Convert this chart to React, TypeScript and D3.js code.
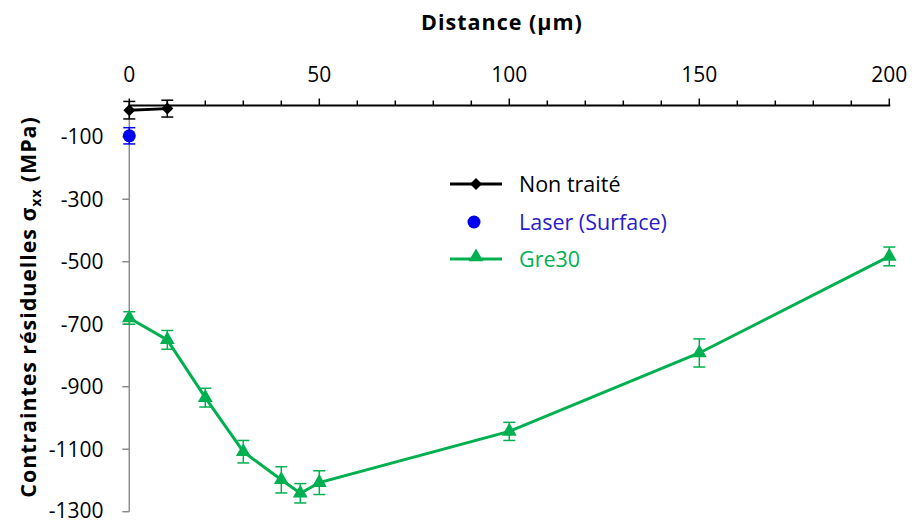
import React from "react";
import * as d3 from "d3";

const W = 912;
const H = 520;

const xTicks = [0, 50, 100, 150, 200];
const yTicks = [-100, -300, -500, -700, -900, -1100, -1300];

const nonTraiteX = [0, 10];
const nonTraiteY = [-15, -10];
const nonTraiteErr = [28, 27];

const laserX = [0];
const laserY = [-97];
const laserErr = [26];

const greX = [0, 10, 20, 30, 40, 45, 50, 100, 150, 200];
const greY = [-680, -750, -935, -1108, -1198, -1241, -1207, -1043, -792, -483];
const greErr = [20, 30, 30, 36, 42, 31, 38, 29, 45, 30];

const GREEN = "#00B050";
const BLUE = "#0000F0";
const FONT = "'Open Sans', 'DejaVu Sans', sans-serif";

export default function App() {
  const x = d3.scaleLinear().domain([0, 200]).range([129.3, 889.3]);
  const y = d3.scaleLinear().domain([-1300, 0]).range([511.7, 105.5]);
  const line = d3.line<[number, number]>().x((d) => x(d[0])).y((d) => y(d[1]));
  const tri = d3.symbol().type(d3.symbolTriangle).size(95)()!;
  const sq = d3.symbol().type(d3.symbolSquare).size(72)()!;
  const minor = d3.range(0, 201, 10);

  const greData: [number, number][] = greX.map((v, i) => [v, greY[i]]);
  const ntData: [number, number][] = nonTraiteX.map((v, i) => [v, nonTraiteY[i]]);

  const errBar = (cx: number, cy: number, e: number, color: string, key: string) => (
    <g key={key} stroke={color} strokeWidth={1.5}>
      <line x1={x(cx)} x2={x(cx)} y1={y(cy - e)} y2={y(cy + e)} />
      <line x1={x(cx) - 6} x2={x(cx) + 6} y1={y(cy - e)} y2={y(cy - e)} />
      <line x1={x(cx) - 6} x2={x(cx) + 6} y1={y(cy + e)} y2={y(cy + e)} />
    </g>
  );

  return (
    <svg
      width={W}
      height={H}
      style={{ position: "absolute", left: 0, top: 0, background: "#fff" }}
      fontFamily={FONT}
    >
      {/* Y axis */}
      <line x1={x(0)} x2={x(0)} y1={y(0)} y2={y(-1300)} stroke="#8c8c8c" strokeWidth={1.5} />
      {yTicks.map((t) => (
        <g key={"yt" + t}>
          <line x1={x(0) - 7} x2={x(0)} y1={y(t)} y2={y(t)} stroke="#8c8c8c" strokeWidth={1.5} />
          <text
            x={103.5}
            y={Math.min(y(t) + 7.5, 517.5)}
            textAnchor="end"
            fontSize={21}
            fill="#000"
          >
            {t}
          </text>
        </g>
      ))}

      {/* X axis (top) */}
      <line x1={x(0)} x2={x(200) + 1} y1={y(0)} y2={y(0)} stroke="#000" strokeWidth={2} />
      {minor.map((t) => (
        <line
          key={"mx" + t}
          x1={x(t)}
          x2={x(t)}
          y1={y(0)}
          y2={y(0) - (t % 50 === 0 ? 7 : 5)}
          stroke="#000"
          strokeWidth={1.5}
        />
      ))}
      {xTicks.map((t) => (
        <text key={"xt" + t} x={x(t)} y={81.5} textAnchor="middle" fontSize={21} fill="#000">
          {t}
        </text>
      ))}
      <text
        x={502}
        y={30}
        textAnchor="middle"
        fontSize={21.5}
        fontWeight="bold"
        letterSpacing={1}
        fill="#000"
      >
        Distance (µm)
      </text>
      <text
        transform={`translate(36,307) rotate(-90)`}
        textAnchor="middle"
        fontSize={21.5}
        fontWeight="bold"
        letterSpacing={0.9}
        fill="#000"
      >
        Contraintes résiduelles σ<tspan fontSize={14} dy={5}>xx</tspan>
        <tspan dy={-5}> (MPa)</tspan>
      </text>

      {/* Gre30 */}
      {greX.map((v, i) => errBar(v, greY[i], greErr[i], GREEN, "ge" + i))}
      <path d={line(greData)!} fill="none" stroke={GREEN} strokeWidth={3} />
      {greData.map((d, i) => (
        <path key={"gt" + i} d={tri} transform={`translate(${x(d[0])},${y(d[1])})`} fill={GREEN} />
      ))}

      {/* Laser */}
      {laserX.map((v, i) => errBar(v, laserY[i], laserErr[i], BLUE, "le" + i))}
      {laserX.map((v, i) => (
        <circle key={"lc" + i} cx={x(v)} cy={y(laserY[i])} r={6.5} fill={BLUE} />
      ))}

      {/* Non traité */}
      {nonTraiteX.map((v, i) => errBar(v, nonTraiteY[i], nonTraiteErr[i], "#000", "ne" + i))}
      <path d={line(ntData)!} fill="none" stroke="#000" strokeWidth={3} />
      {ntData.map((d, i) => (
        <path
          key={"nd" + i}
          d={sq}
          transform={`translate(${x(d[0])},${y(d[1])}) rotate(45)`}
          fill="#000"
        />
      ))}

      {/* Legend */}
      <g>
        <line x1={450} x2={502} y1={184} y2={184} stroke="#000" strokeWidth={3} />
        <path d={sq} transform="translate(476,184) rotate(45)" fill="#000" />
        <text x={519} y={184} dy="0.35em" fontSize={21.5} fill="#000">
          Non traité
        </text>
        <circle cx={474} cy={222} r={6.5} fill={BLUE} />
        <text x={519} y={222} dy="0.35em" fontSize={21.5} fill="#2A1BC8">
          Laser (Surface)
        </text>
        <line x1={450} x2={502} y1={259} y2={259} stroke={GREEN} strokeWidth={3} />
        <path d={tri} transform="translate(476,257)" fill={GREEN} />
        <text x={519} y={259} dy="0.35em" fontSize={21.5} fill={GREEN}>
          Gre30
        </text>
      </g>
    </svg>
  );
}
